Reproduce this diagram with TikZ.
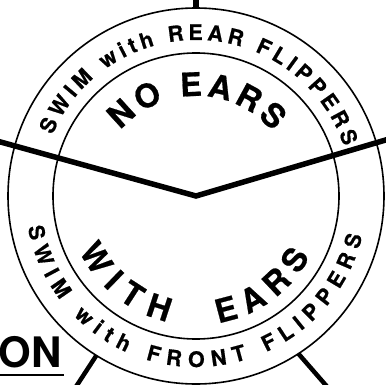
\documentclass[tikz,border=0pt]{standalone}
\usepackage{fontspec}
\setmainfont{TeX Gyre Heros}
\newfontfamily\heavyfam[FakeBold=0.6]{TeX Gyre Heros Bold}
\usetikzlibrary{decorations.text}
\newcommand\ringfnt{\heavyfam\fontsize{21.5}{21.5}\selectfont}
\newcommand\bigfnt{\heavyfam\fontsize{32.5}{32.5}\selectfont}
\tikzset{
  thinring/.style={draw, circle, line width=1.6pt, inner sep=0pt, outer sep=0pt},
  thickline/.style={line width=5.5pt},
  ringtext/.style={decorate, decoration={text along path, text align=fit to path, text={#1}}}
}
\begin{document}
\begin{tikzpicture}[x=1pt, y=1pt]
\useasboundingbox (0,0) rectangle (386,384);
\fill[white] (0,0) rectangle (386,384);
\coordinate (ctr) at (196,188);
\node[thinring, minimum size=376pt] (outer) at (ctr) {};
\node[thinring, minimum size=286pt] (inner) at (ctr) {};
% thick connectors
\coordinate (westend) at (-3,243);
\coordinate (eastend) at (389,245);
\draw[thickline] (westend) -- (ctr) -- (eastend);
\coordinate (topend) at (196,388);
\draw[thickline] (topend) -- (outer.north);
\coordinate (swend) at (75.8,-3);
\draw[thickline, line width=4.5pt] (outer.238.7) -- (swend);
\coordinate (seend) at (327.4,-3);
\draw[thickline, line width=4.5pt] (outer.303.6) -- (seend);
% curved texts
\begin{scope}[shift={(ctr)}]
\path[ringtext={|\ringfnt|SWIM with REAR FLIPPERS}] (157:156) arc[start angle=157, end angle=18.5, radius=156];
\path[ringtext={|\ringfnt|SWIM with FRONT FLIPPERS}] (190.5:171) arc[start angle=190.5, end angle=346.5, radius=171];
\path[ringtext={|\bigfnt|NO EARS}] (139:100) arc[start angle=139, end angle=40, radius=100];
\path[ringtext={|\bigfnt|WITH}] (205:129) arc[start angle=205, end angle=257, radius=129];
\path[ringtext={|\bigfnt|EARS}] (280:129) arc[start angle=280, end angle=332, radius=129];
\end{scope}
% ON label
\node[anchor=base west, inner sep=0pt, font=\bfseries\fontsize{42}{42}\selectfont] (on) at (-1.5,17) {ON};
\draw[line width=2.5pt] ([yshift=-8pt]on.base west) -- ([yshift=-8pt, xshift=2pt]on.base east);
\end{tikzpicture}
\end{document}
